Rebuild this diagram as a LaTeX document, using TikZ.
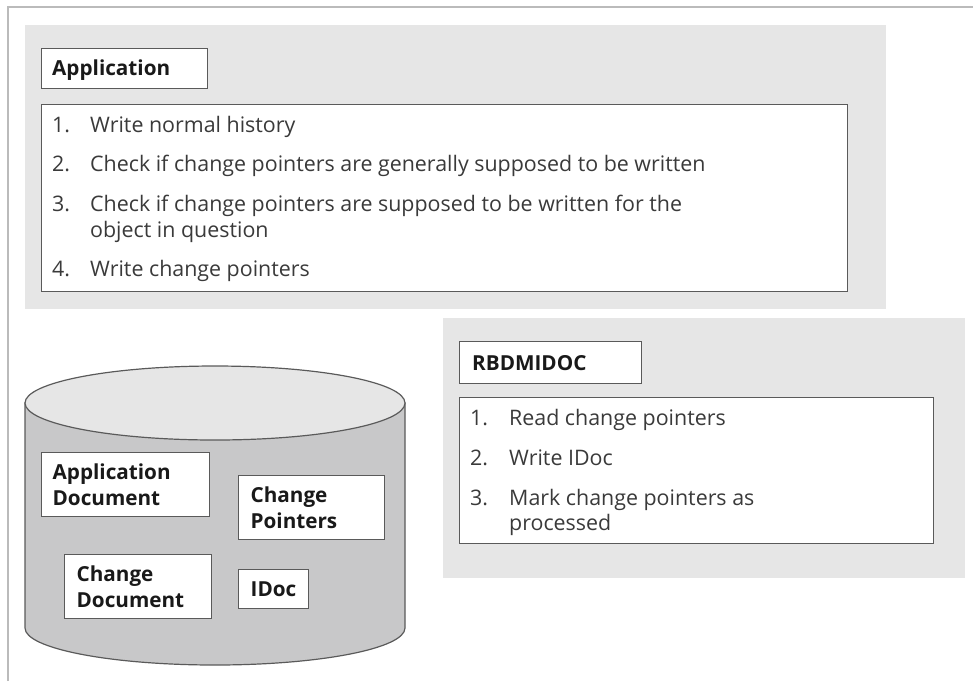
\documentclass[tikz,border=0pt]{standalone}
\usepackage{fontspec}
\setmainfont{Open Sans}
\definecolor{panelgray}{HTML}{E6E6E6}
\definecolor{cylbody}{HTML}{C8C8C9}
\definecolor{cyltop}{HTML}{E6E6E6}
\definecolor{boxline}{HTML}{5A5A5A}
\definecolor{framegray}{HTML}{BBBBBB}
\definecolor{txtgray}{HTML}{3A3A3A}
\tikzset{
  panel/.style={fill=panelgray, draw=none, anchor=north west, inner sep=0pt},
  whitebox/.style={fill=white, draw=boxline, line width=1.3pt, anchor=north west, inner sep=0pt},
  titletext/.style={anchor=base west, inner sep=0pt, font=\fontsize{20.7}{25}\selectfont\bfseries, text=black!90},
  itemtext/.style={anchor=base west, inner sep=0pt, font=\fontsize{21.4}{26}\selectfont, text=txtgray, align=left},
  cyltext/.style={whitebox, align=left, font=\fontsize{20.7}{26}\selectfont\bfseries, text=black!90},
}
\begin{document}
\begin{tikzpicture}[x=1pt,y=-1pt]
\useasboundingbox (0,0) rectangle (973,681);
% frame
\draw[framegray, line width=1.3pt] (8,681) -- (8,7) -- (973,7);
% Application panel
\node[panel, minimum width=861pt, minimum height=284pt] (apppanel) at (25,25) {};
\node[whitebox, minimum width=166pt, minimum height=40pt] (apptitle) at (41,48) {};
\node[titletext] (apptitlet) at (52,75) {Application};
\node[whitebox, minimum width=806pt, minimum height=187pt] (applist) at (41,104) {};
\node[itemtext] (a1n) at (52,132) {1.};
\node[itemtext] (a1) at (90,132) {Write normal history};
\node[itemtext] (a2n) at (52,171) {2.};
\node[itemtext] (a2) at (90,171) {Check if change pointers are generally supposed to be written};
\node[itemtext] (a3n) at (52,211) {3.};
\node[itemtext] (a3) at (90,211) {Check if change pointers are supposed to be written for the};
\node[itemtext] (a3b) at (90,237) {object in question};
\node[itemtext] (a4n) at (52,276) {4.};
\node[itemtext] (a4) at (90,276) {Write change pointers};
% RBDMIDOC panel
\node[panel, minimum width=522pt, minimum height=260pt] (rbpanel) at (443,318) {};
\node[whitebox, minimum width=182pt, minimum height=42pt] (rbtitle) at (459,341) {};
\node[titletext] (rbtitlet) at (472,370) {RBDMIDOC};
\node[whitebox, minimum width=474pt, minimum height=146pt] (rblist) at (459,397) {};
\node[itemtext] (r1n) at (470,425) {1.};
\node[itemtext] (r1) at (509,425) {Read change pointers};
\node[itemtext] (r2n) at (470,465) {2.};
\node[itemtext] (r2) at (509,465) {Write IDoc};
\node[itemtext] (r3n) at (470,505) {3.};
\node[itemtext] (r3) at (509,505) {Mark change pointers as};
\node[itemtext] (r3b) at (509,530) {processed};
% cylinder
\draw[draw=boxline, line width=1.2pt, fill=cylbody] (25,403) -- (25,628)
  arc[start angle=180, end angle=360, x radius=190pt, y radius=37pt] -- (405,403) -- cycle;
\draw[draw=boxline, line width=1.2pt, fill=cyltop] (215,403) ellipse[x radius=190pt, y radius=37pt];
\node[cyltext, text width=146pt, inner xsep=11pt, minimum height=64pt] (appdoc) at (41,452) {Application\\Document};
\node[cyltext, text width=122pt, inner xsep=12pt, minimum height=64pt] (chgptr) at (238,475) {Change\\Pointers};
\node[cyltext, text width=123pt, inner xsep=12pt, minimum height=64pt] (chgdoc) at (64,554) {Change\\Document};
\node[cyltext, text width=46pt, inner xsep=12pt, minimum height=39pt] (idoc) at (238,569) {IDoc};
\end{tikzpicture}
\end{document}
